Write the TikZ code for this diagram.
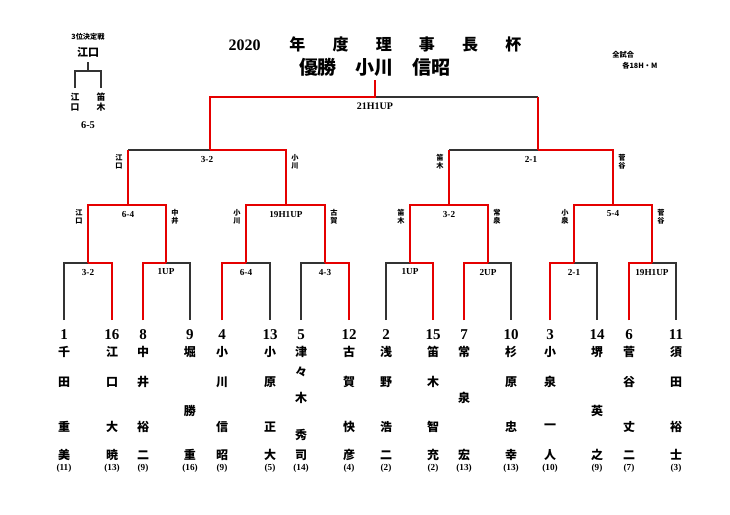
\documentclass[tikz,border=0pt]{standalone}
\usepackage{fontspec}
\setmainfont{Liberation Serif}
\newfontfamily\jp{Noto Sans CJK JP}
\usetikzlibrary{calc}

\tikzset{
  wire/.style={black!80, line width=0.6pt},
  win/.style={red!90!black, line width=0.9pt},
  score/.style={font=\bfseries\fontsize{4.6}{5}\selectfont, inner sep=0pt},
  vname/.style={font=\jp\bfseries\fontsize{3.6}{4.2}\selectfont, align=center, inner sep=0pt},
  pname/.style={font=\jp\bfseries\fontsize{6}{6}\selectfont, inner sep=0pt},
  pnum/.style={font=\bfseries\fontsize{7.5}{8}\selectfont, inner sep=0pt},
  pvote/.style={font=\bfseries\fontsize{4.6}{5}\selectfont, inner sep=0pt}
}

\begin{document}
\begin{tikzpicture}[x=0.5pt,y=-0.5pt]
\useasboundingbox (0,0) rectangle (730,515);

% title
\node[font=\jp\bfseries\fontsize{8}{8}\selectfont] (title) at (375,44)
  {\textrm{\bfseries 2020}\hspace{1.8em}年\hspace{1.7em}度\hspace{1.7em}理\hspace{1.7em}事\hspace{1.7em}長\hspace{1.7em}杯};
\node[font=\jp\bfseries\fontsize{9.5}{9.5}\selectfont] (champ) at (375,67) {優勝\hspace{1em}小川\hspace{1em}信昭};
\node[font=\jp\bfseries\fontsize{3.6}{4.2}\selectfont, inner sep=0pt, anchor=west] (note1) at (612,55) {全試合};
\node[font=\jp\bfseries\fontsize{3.6}{4.2}\selectfont, inner sep=0pt, anchor=west] (note2) at (622,66) {各18H・M};

% 3rd place play-off
\node[vname] (third) at (88,37) {3位決定戦};
\node[font=\jp\bfseries\fontsize{5.5}{6}\selectfont, inner sep=0pt] (thirdw) at (88,52) {江口};
\coordinate (t0) at (88,62);
\coordinate (t1) at (88,71);
\draw[wire] (t0) -- (t1) (75,88) |- (t1) -| (101,88);
\node[vname, font=\jp\bfseries\fontsize{4.4}{5.2}\selectfont] (ta) at (75,102) {江\\口};
\node[vname, font=\jp\bfseries\fontsize{4.4}{5.2}\selectfont] (tb) at (101,102) {笛\\木};
\node[score, font=\bfseries\fontsize{5.2}{6}\selectfont] (tscore) at (88,125) {6-5};

% first round
\foreach \m/\a/\b/\c/\w/\s in {1/64/112/88/112/{3-2},2/143/190/166/143/{1UP},3/222/270/246/222/{6-4},4/301/349/325/349/{4-3},
    5/386/433/410/433/{1UP},6/464/511/488/464/{2UP},7/550/597/574/550/{2-1},8/629/676/652/629/{19H1UP}}{
  \coordinate (r1m\m) at (\c,263);
  \draw[wire] (\a,320) -- (\a,263) -- (\b,263) -- (\b,320);
  \draw[win] (\w,320) -- (\w,263) -- (r1m\m);
  \node[score] (s1m\m) at ($(r1m\m)+(0,9)$) {\s};
}

% second round
\foreach \m/\a/\b/\c/\s/\na/\nb in {1/1/2/128/{6-4}/{江\\口}/{中\\井},2/3/4/286/{19H1UP}/{小\\川}/{古\\賀},
    3/5/6/449/{3-2}/{笛\\木}/{常\\泉},4/7/8/613/{5-4}/{小\\泉}/{菅\\谷}}{
  \coordinate (r2a\m) at (r1m\a |- 0,205);
  \coordinate (r2b\m) at (r1m\b |- 0,205);
  \coordinate (r2m\m) at (\c,205);
  \draw[win] (r1m\a) -- (r2a\m) -- (r2b\m) -- (r1m\b);
  \node[score] (s2m\m) at ($(r2m\m)+(0,9)$) {\s};
  \node[vname] (n2a\m) at ($(r2a\m)+(-9,12)$) {\na};
  \node[vname] (n2b\m) at ($(r2b\m)+(9,12)$) {\nb};
}

% semi-finals
\foreach \m/\a/\b/\c/\s/\na/\nb in {1/1/2/210/{3-2}/{江\\口}/{小\\川},2/3/4/538/{2-1}/{笛\\木}/{菅\\谷}}{
  \coordinate (r3a\m) at (r2m\a |- 0,150);
  \coordinate (r3b\m) at (r2m\b |- 0,150);
  \coordinate (r3m\m) at (\c,150);
  \draw[wire] (r3a\m) -- (r3m\m);
  \draw[win] (r2m\a) -- (r3a\m) (r3m\m) -- (r3b\m) -- (r2m\b);
  \node[score] (s3m\m) at ($(r3a\m)!0.5!(r3b\m)+(0,9)$) {\s};
  \node[vname] (n3a\m) at ($(r3a\m)+(-9,12)$) {\na};
  \node[vname] (n3b\m) at ($(r3b\m)+(9,12)$) {\nb};
}

% final
\coordinate (fa) at (r3m1 |- 0,97);
\coordinate (fb) at (r3m2 |- 0,97);
\coordinate (fm) at (375,97);
\coordinate (ftop) at (fm |- 0,80);
\draw[wire] (fm) -- (fb);
\draw[win] (r3m1) -- (fa) -- (fm) -- (ftop) (fb) -- (r3m2);
\node[score, font=\bfseries\fontsize{5}{6}\selectfont] (sfin) at ($(fm)+(0,9)$) {21H1UP};

% players
\foreach \x/\n/\c/\v in {64/1/{千,田,重,美}/11,112/16/{江,口,大,暁}/13,143/8/{中,井,裕,二}/9,
    270/13/{小,原,正,大}/5,349/12/{古,賀,快,彦}/4,222/4/{小,川,信,昭}/9,
    386/2/{浅,野,浩,二}/2,433/15/{笛,木,智,充}/2,511/10/{杉,原,忠,幸}/13,
    550/3/{小,泉,一,人}/10,629/6/{菅,谷,丈,二}/7,676/11/{須,田,裕,士}/3}{
  \node[pnum] (num\n) at (\x,335) {\n};
  \foreach \ch [count=\k] in \c {
    \pgfmathsetmacro\yy{{352,382,427,455}[\k-1]}
    \node[pname] at (\x,\yy) {\ch};
  }
  \node[pvote] (vote\n) at (\x,468) {(\v)};
}
\foreach \x/\n/\c/\ys/\v in {190/9/{堀,勝,重}/{352,411,455}/16,597/14/{堺,英,之}/{352,411,455}/9,
    464/7/{常,泉,宏}/{352,398,455}/13,301/5/{津,々,木,秀,司}/{352,372,398,435,455}/14}{
  \node[pnum] (num\n) at (\x,335) {\n};
  \foreach \ch [count=\k] in \c {
    \pgfmathsetmacro\yy{{\ys}[\k-1]}
    \node[pname] at (\x,\yy) {\ch};
  }
  \node[pvote] (vote\n) at (\x,468) {(\v)};
}
\end{tikzpicture}
\end{document}
